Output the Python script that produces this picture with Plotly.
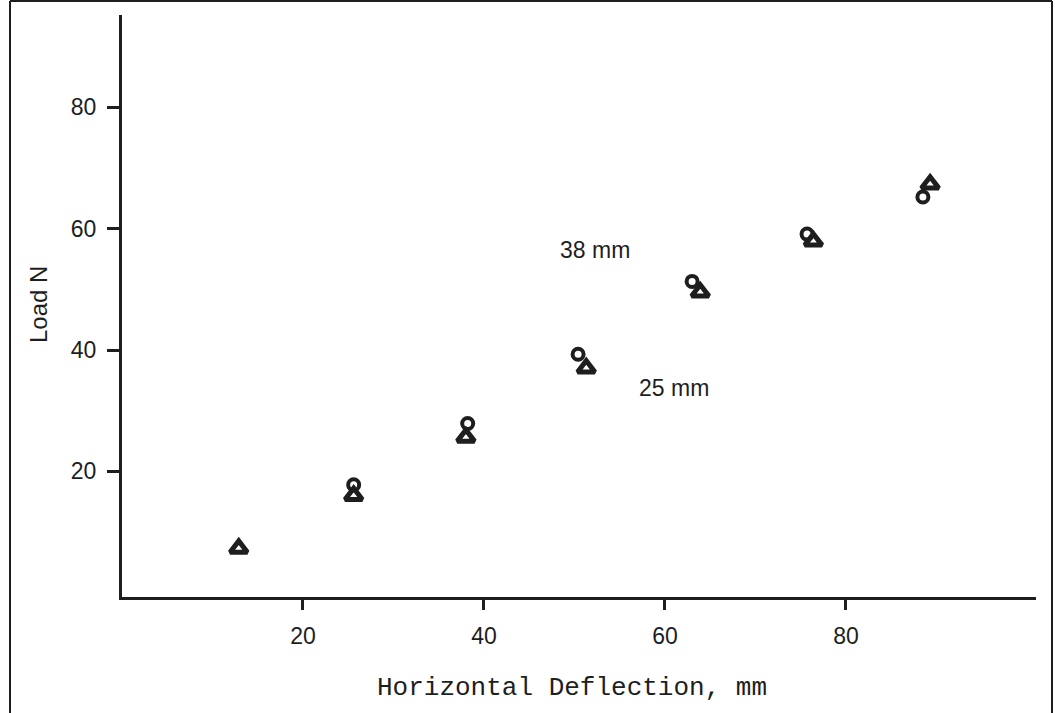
import plotly.graph_objects as go

# Data
deflection_25mm = [12.9, 25.6, 38.0, 51.3, 63.9, 76.4, 89.3]
load_25mm = [7.3, 16.0, 25.6, 37.0, 49.5, 57.9, 67.3]
deflection_38mm = [25.6, 38.2, 50.4, 63.0, 75.7, 88.5]
load_38mm = [17.8, 27.9, 39.3, 51.3, 59.1, 65.2]

x_ticks = [20, 40, 60, 80]
y_ticks = [20, 40, 60, 80]

ink = "#1e1e1e"

fig = go.Figure()
fig.add_trace(go.Scatter(
    x=deflection_25mm, y=load_25mm, mode="markers", name="25 mm",
    marker=dict(symbol="triangle-up-open", size=15, color=ink,
                line=dict(width=5, color=ink)),
))
fig.add_trace(go.Scatter(
    x=deflection_38mm, y=load_38mm, mode="markers", name="38 mm",
    marker=dict(symbol="circle-open", size=11, color=ink,
                line=dict(width=4, color=ink)),
))

fig.add_annotation(x=52.3, y=56.4, text="38 mm", showarrow=False,
                   font=dict(family="Liberation Sans", size=23, color=ink))
fig.add_annotation(x=61.0, y=33.8, text="25 mm", showarrow=False,
                   font=dict(family="Liberation Sans", size=23, color=ink))

# page frame and axis titles
L, R, T, B = 122, 1036, 15, 597
W, H = R - L, B - T
def px(xp):
    return (xp - L) / W
def py(yp):
    return (B - yp) / H
for x0, y0, x1, y1 in [(10, 1, 1052, 1), (10, 1, 10, 713), (1052, 1, 1052, 713)]:
    fig.add_shape(type="line", xref="paper", yref="paper",
                  x0=px(x0), y0=py(y0), x1=px(x1), y1=py(y1),
                  line=dict(color=ink, width=2))

fig.add_annotation(xref="paper", yref="paper", x=px(572), y=py(688),
                   xanchor="center", yanchor="middle",
                   text="Horizontal Deflection, mm", showarrow=False,
                   font=dict(family="Liberation Mono", size=26, color=ink))
fig.add_annotation(xref="paper", yref="paper", x=px(38), y=py(305),
                   xanchor="center", yanchor="middle",
                   text="Load N", showarrow=False, textangle=-90,
                   font=dict(family="Liberation Sans", size=24, color=ink))

fig.update_layout(
    width=1055, height=713,
    margin=dict(l=L, r=1055 - R, t=T, b=713 - B),
    paper_bgcolor="white", plot_bgcolor="white",
    showlegend=False,
    font=dict(family="Liberation Sans", size=22, color=ink),
)
fig.update_xaxes(
    range=[0, 101], tickvals=x_ticks, ticktext=[str(v) for v in x_ticks],
    showgrid=False, zeroline=False, showline=True, linewidth=3, linecolor=ink,
    ticks="outside", ticklen=10, tickwidth=2.5, tickcolor=ink,
    ticklabelstandoff=6,
    tickfont=dict(family="Liberation Sans", size=23, color=ink),
)
fig.update_yaxes(
    range=[-0.7, 95.2], tickvals=y_ticks, ticktext=[str(v) for v in y_ticks],
    showgrid=False, zeroline=False, showline=True, linewidth=3, linecolor=ink,
    ticks="outside", ticklen=12, tickwidth=2.5, tickcolor=ink,
    ticklabelstandoff=6,
    tickfont=dict(family="Liberation Sans", size=23, color=ink),
)

fig.write_html("out.html")
